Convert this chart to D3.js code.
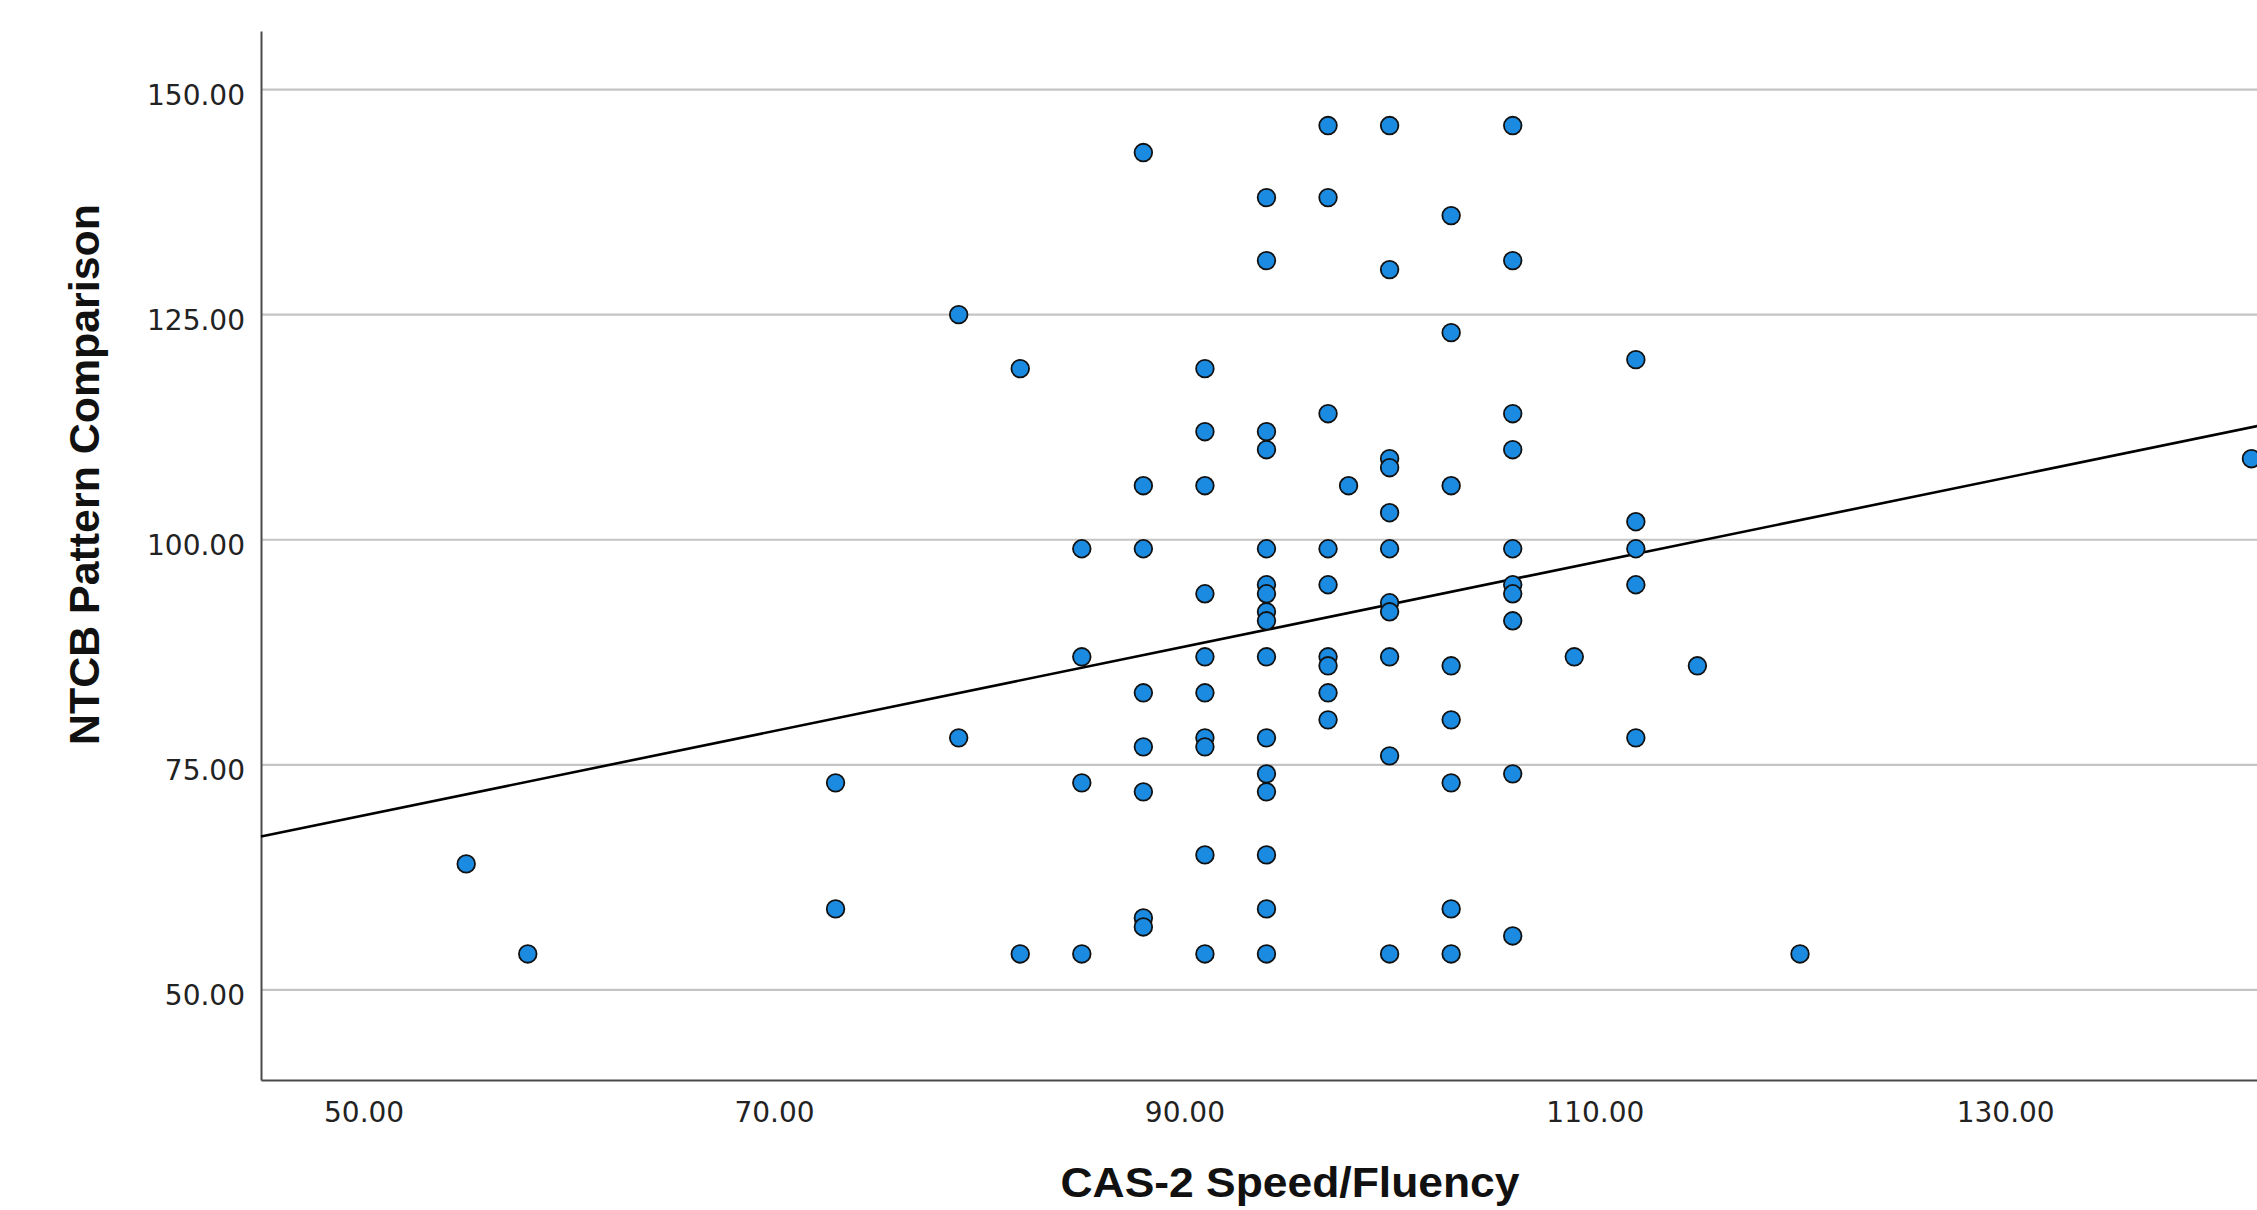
<!DOCTYPE html>
<head>
    <meta charset="utf-8">
    <script src="https://d3js.org/d3.v7.min.js"></script>
    <style>
        body { margin: 0; background: #fff; }
    </style>
</head>

<body>
    <div id="scatter"></div>
</body>

<script>

    // CAS-2 Speed/Fluency (x) and NTCB Pattern Comparison (y), one entry per case
    const cas2Speed = [
        55, 58, 73, 73, 79, 79, 82, 82, 85, 85, 85, 85,
        88, 88, 88, 88, 88, 88, 88, 88,
        91, 91, 91, 91, 91, 91, 91, 91, 91, 91,
        94, 94, 94, 94, 94, 94, 94, 94, 94, 94, 94, 94, 94, 94, 94, 94,
        97, 97, 97, 97, 97, 97, 97, 97, 97,
        98,
        100, 100, 100, 100, 100, 100, 100, 100, 100, 100, 100,
        103, 103, 103, 103, 103, 103, 103, 103,
        106, 106, 106, 106, 106, 106, 106, 106, 106, 106,
        109, 112, 112, 112, 112, 112, 115, 120, 142
    ];
    const ntcbPattern = [
        64, 54, 73, 59, 125, 78, 119, 54, 99, 87, 73, 54,
        143, 106, 99, 83, 77, 72, 58, 57,
        119, 112, 106, 94, 87, 83, 78, 77, 65, 54,
        138, 131, 112, 110, 99, 95, 94, 92, 91, 87, 78, 74, 72, 65, 59, 54,
        146, 138, 114, 99, 95, 87, 86, 83, 80,
        106,
        146, 130, 109, 108, 103, 99, 93, 92, 87, 76, 54,
        136, 123, 106, 86, 80, 73, 59, 54,
        146, 131, 114, 110, 99, 95, 94, 91, 74, 56,
        87, 120, 102, 99, 95, 78, 86, 54, 109
    ];

    // fit line (intercept, slope)
    const fitLine = [45.96, 0.4685];

    const xTicks = [50, 70, 90, 110, 130];
    const yTicks = [50, 75, 100, 125, 150];

    const width = 2257,
        height = 1210;

    const x = d3.scaleLinear().domain([45, 145]).range([261, 2313]);
    const y = d3.scaleLinear().domain([40, 156.5]).range([1080, 31]);

    const svg = d3.select('#scatter').append('svg')
        .attr('width', width)
        .attr('height', height)
        .style('display', 'block')
        .style('background', '#fff');

    // horizontal grid
    svg.append('g')
        .selectAll('line').data(yTicks)
        .join('line')
        .attr('x1', x.range()[0])
        .attr('x2', x.range()[1])
        .attr('y1', d => y(d))
        .attr('y2', d => y(d))
        .attr('stroke', '#c4c4c4')
        .attr('stroke-width', 2.2);

    // axes
    const yAxis = svg.append('g')
        .attr('transform', `translate(${x.range()[0]},0)`)
        .call(d3.axisLeft(y).tickValues(yTicks).tickSize(0).tickPadding(16)
            .tickFormat(d3.format('.2f')));

    const xAxis = svg.append('g')
        .attr('transform', `translate(0,${y.range()[0]})`)
        .call(d3.axisBottom(x).tickValues(xTicks).tickSize(0).tickPadding(22)
            .tickFormat(d3.format('.2f')));

    [xAxis, yAxis].forEach(g => {
        g.select('.domain').attr('stroke', '#4a4a4a').attr('stroke-width', 2);
        g.selectAll('text')
            .attr('font-family', '"DejaVu Sans", sans-serif')
            .attr('font-size', 28)
            .attr('fill', '#222');
    });
    yAxis.selectAll('text').attr('dy', '0.52em');

    // fit line
    const fx = x.domain();
    svg.append('line')
        .attr('x1', x(fx[0]))
        .attr('y1', y(fitLine[0] + fitLine[1] * fx[0]))
        .attr('x2', x(fx[1]))
        .attr('y2', y(fitLine[0] + fitLine[1] * fx[1]))
        .attr('stroke', '#000')
        .attr('stroke-width', 2.6);

    // points
    svg.append('g')
        .selectAll('circle').data(d3.range(cas2Speed.length))
        .join('circle')
        .attr('cx', i => x(cas2Speed[i]))
        .attr('cy', i => y(ntcbPattern[i]))
        .attr('r', 8.8)
        .attr('fill', '#1b8be2')
        .attr('stroke', '#111')
        .attr('stroke-width', 1.8);

    // axis titles
    svg.append('text')
        .attr('x', 1290)
        .attr('y', 1197)
        .attr('text-anchor', 'middle')
        .attr('font-family', '"Liberation Sans", Arial, sans-serif')
        .attr('font-weight', 'bold')
        .attr('font-size', 42)
        .attr('textLength', 459)
        .attr('lengthAdjust', 'spacingAndGlyphs')
        .attr('fill', '#111')
        .text('CAS-2 Speed/Fluency');

    svg.append('text')
        .attr('transform', 'translate(99,474.5) rotate(-90)')
        .attr('text-anchor', 'middle')
        .attr('font-family', '"Liberation Sans", Arial, sans-serif')
        .attr('font-weight', 'bold')
        .attr('font-size', 43)
        .attr('textLength', 541)
        .attr('lengthAdjust', 'spacingAndGlyphs')
        .attr('fill', '#111')
        .text('NTCB Pattern Comparison');

</script>
